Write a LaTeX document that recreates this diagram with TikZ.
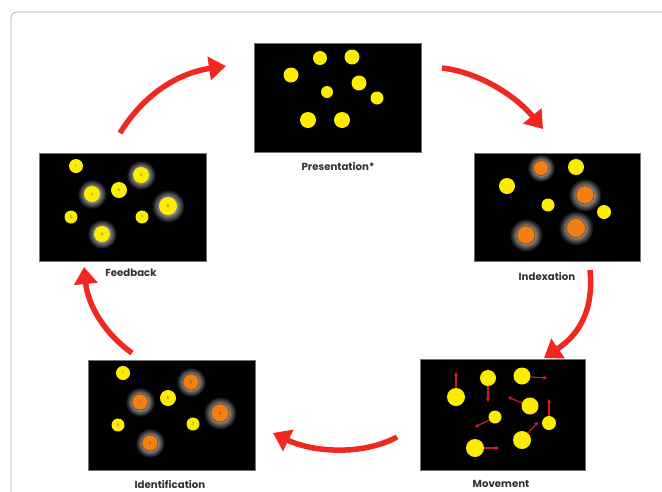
\documentclass[tikz,border=0pt]{standalone}
\usepackage{fontspec}
\setmainfont{Poppins}
\usetikzlibrary{arrows.meta}
\definecolor{dotyel}{RGB}{252,236,0}
\definecolor{dotorg}{RGB}{240,128,20}
\definecolor{orgline}{RGB}{120,60,10}
\definecolor{bigred}{RGB}{240,40,32}
\definecolor{movred}{RGB}{205,30,30}
\definecolor{labgray}{RGB}{50,50,50}
\definecolor{framegray}{RGB}{175,175,175}
\pgfdeclareradialshading{glowshade}{\pgfpoint{0bp}{0bp}}{color(0bp)=(black!45!white); color(13bp)=(black!45!white); color(25bp)=(black); color(50bp)=(black)}
\tikzset{
  panel/.style={draw=black!55!white, line width=0.6pt, fill=black, anchor=north west, inner sep=0pt},
  lab/.style={font=\fontsize{10.2}{12}\selectfont\bfseries, text=labgray, inner sep=0pt},
  bigarrow/.style={draw=bigred, line width=5.5pt, -{Triangle[length=17pt,width=23pt]}},
  movarrow/.style={draw=movred, line width=1.2pt, -{Stealth[length=4pt,width=4.5pt]}},
  num/.style={font=\fontsize{3.5}{3.5}\selectfont, text=black!70, inner sep=0pt},
}
\newcommand{\mydotY}[3]{\fill[dotyel] (#1,#2) circle (#3pt);}
\newcommand{\mydotO}[3]{\fill[dotorg, draw=orgline, line width=0.5pt] (#1,#2) circle (#3pt);}
\newcommand{\myglow}[3]{\shade[shading=glowshade] (#1,#2) circle ({1.85*#3pt});}
\begin{document}
\begin{tikzpicture}[x=1pt,y=-1pt]
\useasboundingbox (0,0) rectangle (662,491);
\fill[white] (0,0) rectangle (662,491);
% frame
\draw[framegray, line width=0.8pt, rounded corners=6pt] (11,520) -- (11,12) -- (700,12);

% panels
\node[panel, minimum width=167pt, minimum height=109pt] (pres) at (254,43) {};
\node[panel, minimum width=166pt, minimum height=108pt] (index) at (474,153) {};
\node[panel, minimum width=165pt, minimum height=111pt] (move) at (420,359) {};
\node[panel, minimum width=167pt, minimum height=110pt] (ident) at (88,360) {};
\node[panel, minimum width=167pt, minimum height=108pt] (feed) at (39,153) {};

% labels
\node[lab] (lpres) at (338,166) {Presentation*};
\node[lab] (lindex) at (547,276) {Indexation};
\node[lab] (lmove) at (501,484) {Movement};
\node[lab] (lident) at (170,484) {Identification};
\node[lab] (lfeed) at (131,273) {Feedback};

% Presentation dots
\mydotY{320}{58}{7}
\mydotY{352}{57}{7.5}
\mydotY{291}{75}{7.5}
\mydotY{359}{83}{7.5}
\mydotY{327}{92}{6}
\mydotY{377}{98}{6.5}
\mydotY{308}{120}{8}
\mydotY{342}{120}{8}

% Indexation dots
\myglow{541}{168}{7.5}
\myglow{585}{195}{9}
\myglow{576}{228}{9.5}
\myglow{526}{235}{9}
\mydotO{541}{168}{7.5}
\mydotY{576}{167}{8}
\mydotY{507}{186}{8}
\mydotO{585}{195}{9}
\mydotY{548}{205}{6.5}
\mydotY{604}{212}{7}
\mydotO{576}{228}{9.5}
\mydotO{526}{235}{9}

% Movement dots with arrows
\mydotY{456}{397}{9}
\mydotY{488}{378}{8}
\mydotY{522}{376}{8.5}
\mydotY{530}{406}{8.5}
\mydotY{495}{417}{6.5}
\mydotY{549}{423}{7}
\mydotY{522}{440}{9}
\mydotY{475}{448}{9}
\coordinate (m1) at (456,388);  \coordinate (m1e) at (456,372);
\coordinate (m2) at (488,386);  \coordinate (m2e) at (488,402);
\coordinate (m3) at (530.5,377); \coordinate (m3e) at (547,378);
\coordinate (m4) at (522,403);  \coordinate (m4e) at (508,397);
\coordinate (m5) at (489.5,420); \coordinate (m5e) at (475,427);
\coordinate (m6) at (549,416);  \coordinate (m6e) at (549,399);
\coordinate (m7) at (528,433);  \coordinate (m7e) at (538,422);
\coordinate (m8) at (484,448);  \coordinate (m8e) at (499,448);
\foreach \a in {1,...,8} {\draw[movarrow] (m\a) -- (m\a e);}

% Identification dots
\myglow{140}{402}{8}
\myglow{150}{443}{8}
\myglow{191}{382}{8}
\myglow{220}{413}{9}
\mydotY{123}{373}{7}
\mydotO{140}{402}{8}
\mydotY{118}{425}{6.5}
\mydotO{150}{443}{8}
\mydotY{168}{398}{8}
\mydotO{191}{382}{8}
\mydotY{193}{424}{6.5}
\mydotO{220}{413}{9}
\node[num] (i1) at (123,373) {1};
\node[num] (i2) at (140,402) {2};
\node[num] (i3) at (118,425) {3};
\node[num] (i4) at (150,443) {4};
\node[num] (i5) at (168,398) {5};
\node[num] (i6) at (191,382) {6};
\node[num] (i7) at (193,424) {7};
\node[num] (i8) at (220,413) {8};

% Feedback dots
\myglow{92}{194}{8}
\myglow{102}{234}{8}
\myglow{141}{175}{8}
\myglow{168}{206}{9}
\mydotY{76}{166}{7}
\mydotY{92}{194}{8}
\mydotY{71}{217}{6.5}
\mydotY{102}{234}{8}
\mydotY{119}{190}{8}
\mydotY{141}{175}{8}
\mydotY{142}{217}{6.5}
\mydotY{168}{206}{9}
\node[num] (f1) at (76,166) {1};
\node[num] (f2) at (92,194) {2};
\node[num] (f3) at (71,217) {3};
\node[num] (f4) at (102,234) {4};
\node[num] (f5) at (119,190) {5};
\node[num] (f6) at (141,175) {6};
\node[num] (f7) at (142,217) {7};
\node[num] (f8) at (168,206) {8};

% big cycle arrows
\coordinate (a1s) at (120,133); \coordinate (a1e) at (226,66);
\coordinate (a2s) at (442,68);  \coordinate (a2e) at (543,129);
\coordinate (a3s) at (590,270); \coordinate (a3e) at (544,358);
\coordinate (a4s) at (397,437); \coordinate (a4e) at (273,433);
\coordinate (a5s) at (132,353); \coordinate (a5e) at (84,267);
\draw[bigarrow] (a1s) .. controls (148,88) and (185,72) .. (a1e);
\draw[bigarrow] (a2s) .. controls (478,72) and (515,95) .. (a2e);
\draw[bigarrow] (a3s) .. controls (594,312) and (578,335) .. (a3e);
\draw[bigarrow] (a4s) .. controls (362,456) and (312,452) .. (a4e);
\draw[bigarrow] (a5s) .. controls (104,333) and (88,305) .. (a5e);
\end{tikzpicture}
\end{document}
